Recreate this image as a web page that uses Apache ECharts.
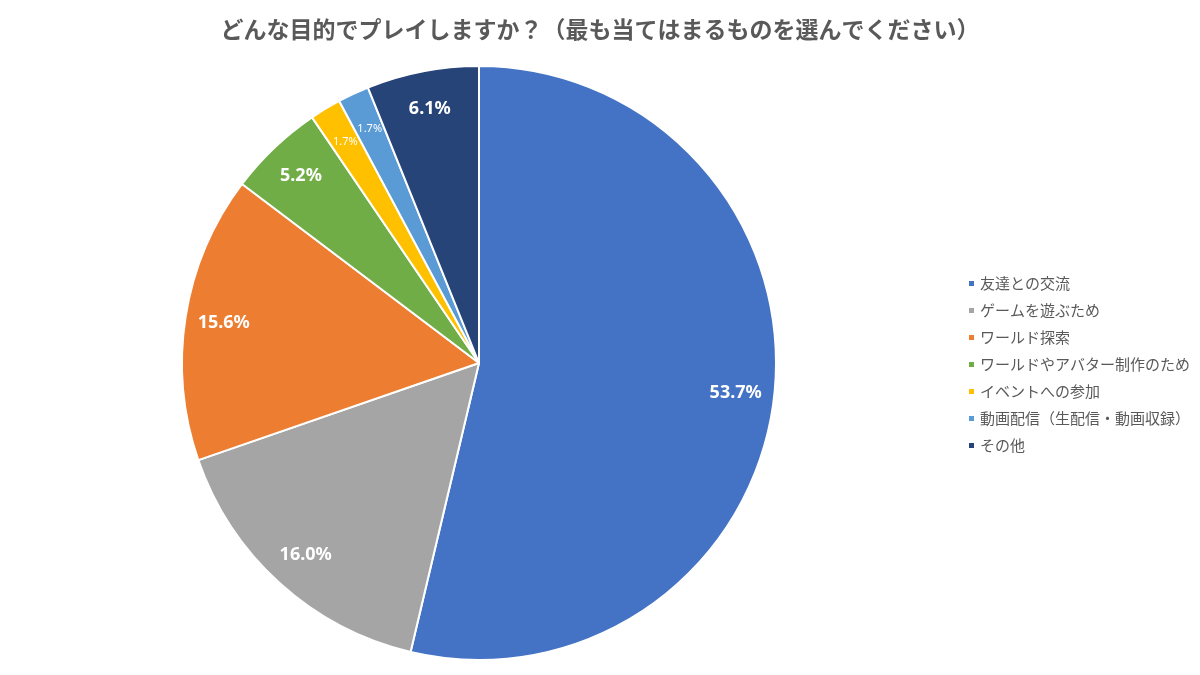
<!DOCTYPE html>
<html>
<head>
<meta charset="utf-8">
<script src="https://cdn.jsdelivr.net/npm/echarts@6/dist/echarts.min.js"></script>
<style>
  html, body { margin: 0; padding: 0; background: #fff; }
  #main { width: 1200px; height: 675px; }
</style>
</head>
<body>
<div id="main"></div>
<script>
// 回答の項目と割合(%)
var categories = ['友達との交流', 'ゲームを遊ぶため', 'ワールド探索', 'ワールドやアバター制作のため', 'イベントへの参加', '動画配信（生配信・動画収録）', 'その他'];
var values = [53.7, 16.0, 15.6, 5.2, 1.7, 1.7, 6.1];
var colors = ['#4472C4', '#A5A5A5', '#ED7D31', '#70AD47', '#FFC000', '#5B9BD5', '#264478'];

var jp = '"Noto Sans CJK JP", "Noto Sans", sans-serif';
var R = 297;

var pieData = categories.map(function (name, i) {
    return { name: name, value: values[i], itemStyle: { color: colors[i] } };
});

// ラベル用の透明なリング（ラベルを外寄りに置くため）
var labelData = categories.map(function (name, i) {
    var small = values[i] < 3;
    return {
        name: name,
        value: values[i],
        label: {
            fontSize: small ? 11 : 18,
            fontWeight: small ? 'normal' : 'bold'
        }
    };
});

var myChart = echarts.init(document.getElementById('main'));
myChart.setOption({
    title: {
        text: 'どんな目的でプレイしますか？（最も当てはまるものを選んでください）',
        left: 'center',
        top: 13,
        textStyle: { fontFamily: jp, fontSize: 23, fontWeight: 'bold', color: '#595959' }
    },
    legend: {
        orient: 'vertical',
        left: 962,
        top: 271,
        itemWidth: 7,
        itemHeight: 7,
        itemGap: 12,
        icon: 'rect',
        data: categories,
        textStyle: { fontFamily: jp, fontSize: 15, color: '#595959' }
    },
    series: [{
        type: 'pie',
        center: [479, 363],
        radius: [0, R],
        startAngle: 90,
        clockwise: true,
        data: pieData,
        label: { show: false },
        labelLine: { show: false },
        itemStyle: { borderColor: '#fff', borderWidth: 2 },
        emphasis: { disabled: true },
        silent: true
    }, {
        type: 'pie',
        center: [479, 363],
        radius: [R * 0.72, R],
        startAngle: 90,
        clockwise: true,
        data: labelData,
        itemStyle: { color: 'transparent' },
        label: {
            show: true,
            position: 'inside',
            color: '#fff',
            fontFamily: '"Noto Sans", sans-serif',
            formatter: function (p) { return p.value.toFixed(1) + '%'; }
        },
        labelLine: { show: false },
        emphasis: { disabled: true },
        silent: true,
        legendHoverLink: false
    }]
});
</script>
</body>
</html>
